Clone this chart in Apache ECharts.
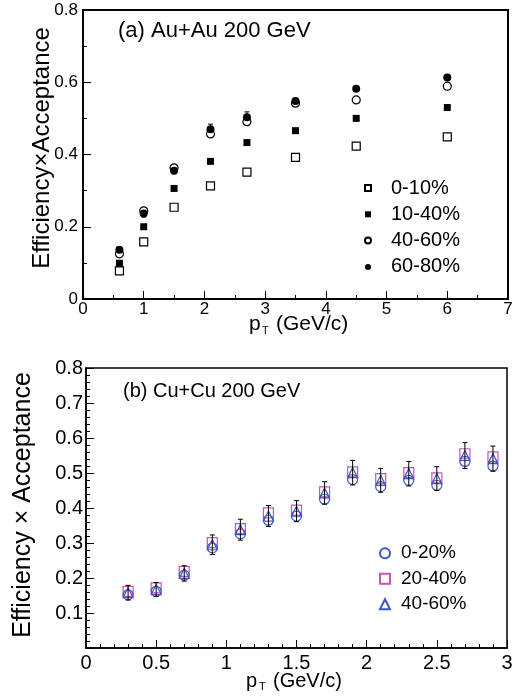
<!DOCTYPE html>
<html><head><meta charset="utf-8">
<script src="https://cdn.jsdelivr.net/npm/echarts@6/dist/echarts.min.js"></script>
<style>html,body{margin:0;padding:0;background:#fff}#c{width:522px;height:700px}</style>
</head><body><div id="c"></div>
<script>
// ---- Panel (a) Au+Au 200 GeV ----
const ptA = [0.6, 1.0, 1.5, 2.1, 2.7, 3.5, 4.5, 6.0];
const auau_0_10  = [0.078, 0.158, 0.254, 0.313, 0.351, 0.392, 0.423, 0.449];
const auau_10_40 = [0.099, 0.200, 0.306, 0.381, 0.433, 0.466, 0.500, 0.530];
const auau_40_60 = [0.125, 0.244, 0.363, 0.457, 0.491, 0.542, 0.551, 0.589];
const auau_60_80 = [0.136, 0.237, 0.355, 0.470, 0.503, 0.548, 0.582, 0.613];
const auau_60_80_err = [0.004, 0.010, 0.006, 0.014, 0.015, 0.006, 0.004, 0.004];
const namesA = ['0-10%', '10-40%', '40-60%', '60-80%'];
const xTicksA = [0, 1, 2, 3, 4, 5, 6, 7];
const yTicksA = [0, 0.2, 0.4, 0.6, 0.8];

// ---- Panel (b) Cu+Cu 200 GeV ----
const ptB = [0.3, 0.5, 0.7, 0.9, 1.1, 1.3, 1.5, 1.7, 1.9, 2.1, 2.3, 2.5, 2.7, 2.9];
const cucu_0_20  = [0.152, 0.162, 0.208, 0.286, 0.326, 0.365, 0.377, 0.425, 0.481, 0.461, 0.479, 0.465, 0.533, 0.520];
const cucu_20_40 = [0.162, 0.172, 0.219, 0.301, 0.341, 0.386, 0.394, 0.446, 0.503, 0.484, 0.501, 0.486, 0.555, 0.546];
const cucu_40_60 = [0.158, 0.167, 0.213, 0.295, 0.338, 0.377, 0.391, 0.443, 0.501, 0.479, 0.498, 0.484, 0.550, 0.541];
const cucu_err   = [0.021, 0.020, 0.022, 0.028, 0.030, 0.030, 0.030, 0.032, 0.035, 0.034, 0.035, 0.034, 0.037, 0.036];
const namesB = ['0-20%', '20-40%', '40-60%'];
const xTicksB = [0, 0.5, 1, 1.5, 2, 2.5, 3];
const yTicksB = [0.1, 0.2, 0.3, 0.4, 0.5, 0.6, 0.7, 0.8];

const FONT = '"Liberation Sans", Arial, Helvetica, sans-serif';
const BLUE = '#3f55c4';
const MAG = '#c855b0';

// series ids keep the two panels' legends apart
const keyA = n => 'a|' + n;
const keyB = n => 'b|' + n;

function zip(xs, ys) { return xs.map((x, i) => [x, ys[i]]); }
function zip3(xs, ys, es) { return xs.map((x, i) => [x, ys[i], es[i]]); }

function errRender(params, api) {
  const x = api.value(0), y = api.value(1), e = api.value(2);
  const t = api.coord([x, y + e]), b = api.coord([x, y - e]);
  const cw = 2.5, st = { stroke: '#000', lineWidth: 1 };
  return { type: 'group', children: [
    { type: 'line', shape: { x1: t[0], y1: t[1], x2: b[0], y2: b[1] }, style: st },
    { type: 'line', shape: { x1: t[0] - cw, y1: t[1], x2: t[0] + cw, y2: t[1] }, style: st },
    { type: 'line', shape: { x1: b[0] - cw, y1: b[1], x2: b[0] + cw, y2: b[1] }, style: st }
  ]};
}

function axisCommon(fontSize, margin) {
  return {
    axisLine: { show: true, onZero: false, lineStyle: { color: '#000', width: 2 } },
    axisTick: { show: true, inside: true, length: 8, lineStyle: { color: '#000', width: 1 } },
    minorTick: { show: true, length: 4, lineStyle: { color: '#000', width: 1 } },
    splitLine: { show: false },
    axisLabel: { color: '#000', fontSize: fontSize, fontFamily: FONT, margin: margin }
  };
}

const chart = echarts.init(document.getElementById('c'), null, { renderer: 'canvas' });

const option = {
  animation: false,
  backgroundColor: '#fff',
  grid: [
    { left: 83, right: 14, top: 10, height: 289, show: true, borderColor: '#000', borderWidth: 2, backgroundColor: 'transparent' },
    { left: 86, right: 15, top: 368, height: 280, show: true, borderColor: '#000', borderWidth: 1.5, backgroundColor: 'transparent' }
  ],
  xAxis: [
    Object.assign(axisCommon(17, 2), { gridIndex: 0, type: 'value', min: xTicksA[0], max: xTicksA[xTicksA.length - 1], interval: 1,
      minorTick: { show: true, splitNumber: 2, length: 4, lineStyle: { color: '#000' } } }),
    Object.assign(axisCommon(20, 5), { gridIndex: 1, type: 'value', min: xTicksB[0], max: xTicksB[xTicksB.length - 1], interval: 0.5,
      axisLine: { show: true, onZero: false, lineStyle: { color: '#000', width: 1.5 } },
      minorTick: { show: true, splitNumber: 5, length: 4, lineStyle: { color: '#000' } } })
  ],
  yAxis: [
    Object.assign(axisCommon(17, 5), { gridIndex: 0, type: 'value', min: yTicksA[0], max: yTicksA[yTicksA.length - 1], interval: 0.2,
      minorTick: { show: true, splitNumber: 2, length: 4, lineStyle: { color: '#000' } } }),
    Object.assign(axisCommon(20, 3), { gridIndex: 1, type: 'value', min: 0, max: yTicksB[yTicksB.length - 1], interval: 0.1,
      axisLine: { show: true, onZero: false, lineStyle: { color: '#000', width: 1.5 } },
      axisLabel: { color: '#000', fontSize: 20, fontFamily: FONT, margin: 3, showMinLabel: false },
      minorTick: { show: true, splitNumber: 5, length: 4, lineStyle: { color: '#000' } } })
  ],
  legend: [
    { orient: 'vertical', left: 364, top: 177, padding: 0, itemWidth: 6, itemHeight: 6, itemGap: 4.3,
      data: namesA.map(keyA), selectedMode: false, formatter: n => n.slice(2),
      textStyle: { fontSize: 20, fontFamily: FONT, color: '#000', lineHeight: 22, padding: [0, 0, 0, 15] } },
    { orient: 'vertical', left: 379, top: 542, padding: 0, itemWidth: 10, itemHeight: 10, itemGap: 3,
      data: namesB.map(keyB), selectedMode: false, formatter: n => n.slice(2),
      textStyle: { fontSize: 19, fontFamily: FONT, color: '#000', lineHeight: 22.5, padding: [0, 0, 0, 6] } }
  ],
  series: [
    { name: keyA(namesA[0]), type: 'scatter', xAxisIndex: 0, yAxisIndex: 0, symbol: 'rect', symbolSize: 8,
      itemStyle: { color: '#fff', borderColor: '#000', borderWidth: 1.2, opacity: 1 }, data: zip(ptA, auau_0_10) },
    { name: keyA(namesA[1]), type: 'scatter', xAxisIndex: 0, yAxisIndex: 0, symbol: 'rect', symbolSize: 7,
      itemStyle: { color: '#000', opacity: 1 }, data: zip(ptA, auau_10_40) },
    { type: 'custom', xAxisIndex: 0, yAxisIndex: 0, renderItem: errRender, data: zip3(ptA, auau_60_80, auau_60_80_err), z: 1 },
    { name: keyA(namesA[2]), type: 'scatter', xAxisIndex: 0, yAxisIndex: 0, symbol: 'circle', symbolSize: 8,
      itemStyle: { color: '#fff', borderColor: '#000', borderWidth: 1.2, opacity: 1 }, data: zip(ptA, auau_40_60) },
    { name: keyA(namesA[3]), type: 'scatter', xAxisIndex: 0, yAxisIndex: 0, symbol: 'circle', symbolSize: 8,
      itemStyle: { color: '#000', opacity: 1 }, data: zip(ptA, auau_60_80) },

    { name: keyB(namesB[1]), type: 'scatter', xAxisIndex: 1, yAxisIndex: 1, symbol: 'rect', symbolSize: 10,
      itemStyle: { color: 'rgba(255,255,255,0)', borderColor: MAG, borderWidth: 1.2, opacity: 1 }, data: zip(ptB, cucu_20_40) },
    { name: keyB(namesB[0]), type: 'scatter', xAxisIndex: 1, yAxisIndex: 1, symbol: 'circle', symbolSize: 10,
      itemStyle: { color: 'rgba(255,255,255,0)', borderColor: BLUE, borderWidth: 1.2, opacity: 1 }, data: zip(ptB, cucu_0_20) },
    { name: keyB(namesB[2]), type: 'scatter', xAxisIndex: 1, yAxisIndex: 1, symbol: 'triangle', symbolSize: 10,
      itemStyle: { color: 'rgba(255,255,255,0)', borderColor: BLUE, borderWidth: 1.2, opacity: 1 }, data: zip(ptB, cucu_40_60) },
    { type: 'custom', xAxisIndex: 1, yAxisIndex: 1, renderItem: errRender, data: zip3(ptB, cucu_40_60, cucu_err), z: 5 }
  ],
  graphic: [
    { type: 'text', left: 118, top: 20, style: { text: '(a) Au+Au 200 GeV', font: '22px ' + FONT, fill: '#000' } },
    { type: 'text', left: 123, top: 381, style: { text: '(b) Cu+Cu 200 GeV', font: '20px ' + FONT, fill: '#000' } },
    { type: 'text', x: 42, y: 148, rotation: Math.PI / 2,
      style: { text: 'Efficiency\u00d7Acceptance', font: '24px ' + FONT, fill: '#000', align: 'center', verticalAlign: 'middle' } },
    { type: 'text', x: 23, y: 505, rotation: Math.PI / 2,
      style: { text: 'Efficiency \u00d7 Acceptance', font: '25px ' + FONT, fill: '#000', align: 'center', verticalAlign: 'middle' } },
    { type: 'text', x: 249, y: 314, style: { text: 'p', font: '21px ' + FONT, fill: '#000', verticalAlign: 'top' } },
    { type: 'text', x: 262, y: 325, style: { text: 'T', font: '11px ' + FONT, fill: '#000', verticalAlign: 'top' } },
    { type: 'text', x: 276, y: 314, style: { text: '(GeV/c)', font: '21px ' + FONT, fill: '#000', verticalAlign: 'top' } },
    { type: 'text', x: 246, y: 671, style: { text: 'p', font: '20px ' + FONT, fill: '#000', verticalAlign: 'top' } },
    { type: 'text', x: 259, y: 681, style: { text: 'T', font: '11px ' + FONT, fill: '#000', verticalAlign: 'top' } },
    { type: 'text', x: 273, y: 671, style: { text: '(GeV/c)', font: '20px ' + FONT, fill: '#000', verticalAlign: 'top' } }
  ]
};
chart.setOption(option);
</script>
</body></html>
